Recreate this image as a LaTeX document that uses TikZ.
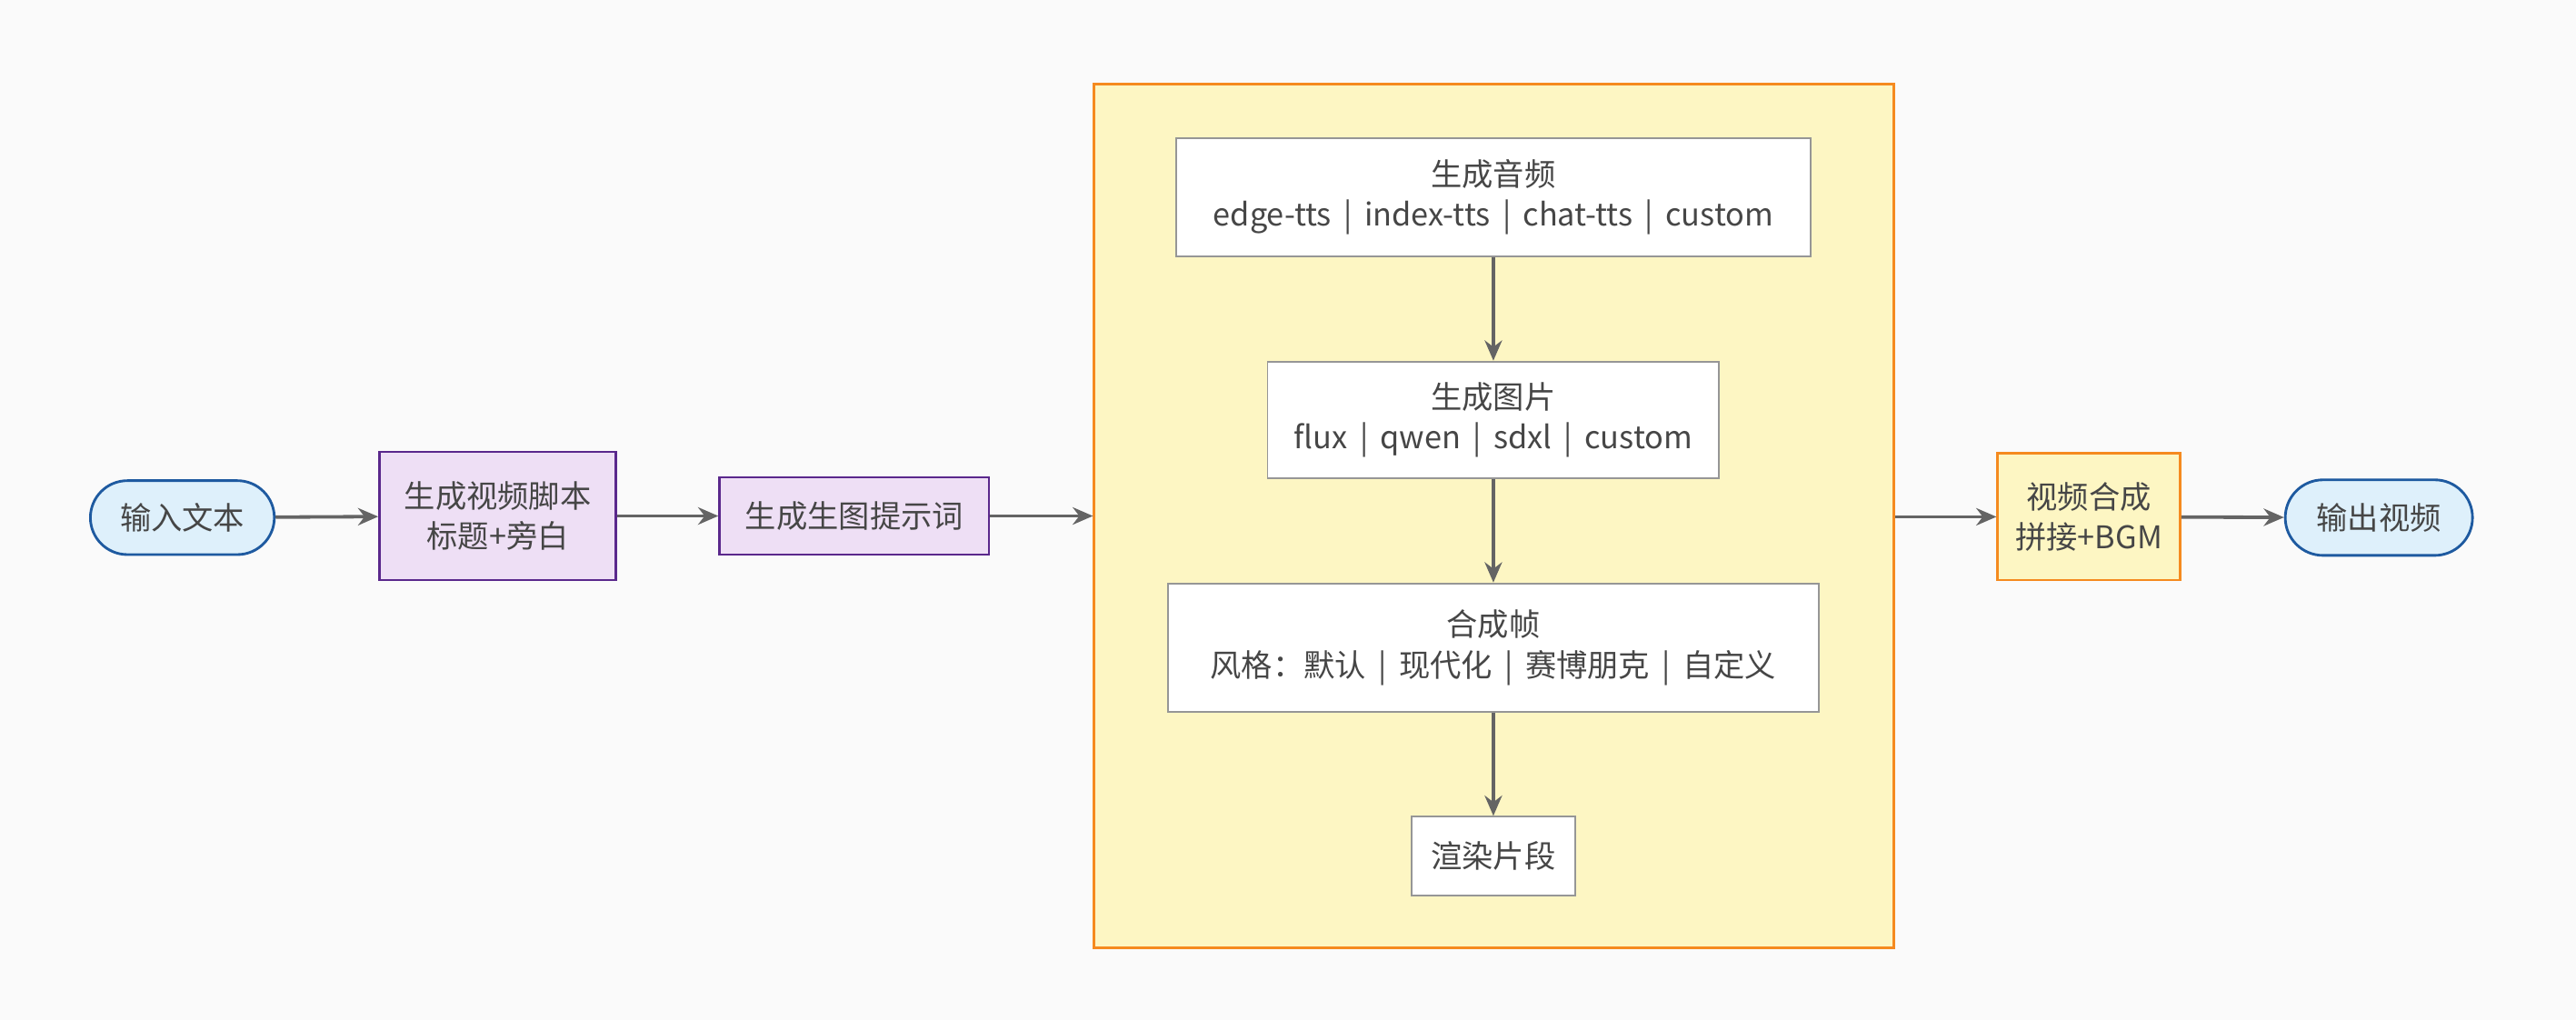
\documentclass[tikz,border=0pt]{standalone}
\usepackage{fontspec}
\setmainfont{Noto Sans CJK SC}
\usetikzlibrary{arrows.meta,positioning,shapes}
\definecolor{bgcolor}{RGB}{250,250,250}
\definecolor{termfill}{RGB}{222,240,251}
\definecolor{termdraw}{RGB}{30,90,160}
\definecolor{scriptfill}{RGB}{238,223,245}
\definecolor{scriptdraw}{RGB}{90,40,140}
\definecolor{groupfill}{RGB}{253,246,195}
\definecolor{groupdraw}{RGB}{245,138,31}
\definecolor{stepdraw}{RGB}{150,150,150}
\definecolor{edgecolor}{RGB}{100,100,100}
\definecolor{textcolor}{RGB}{70,70,70}
\newcommand{\sep}{~\,|\,~}
\tikzset{
  every node/.style={font=\fontsize{10.8}{14}\selectfont, text=textcolor, align=center, inner sep=0pt},
  terminal/.style={rounded rectangle, fill=termfill, draw=termdraw, line width=0.9pt},
  script step/.style={rectangle, fill=scriptfill, draw=scriptdraw, line width=0.9pt},
  group box/.style={rectangle, fill=groupfill, draw=groupdraw, line width=0.9pt},
  inner step/.style={rectangle, fill=white, draw=stepdraw, line width=0.6pt},
  flowedge/.style={-{Stealth[length=7pt,width=6pt]}, line width=1.2pt, edgecolor}
}
\begin{document}
\begin{tikzpicture}[x=0.02cm,y=-0.02cm]
\fill[bgcolor] (0,0) rectangle (1568,621);

    % outer chain
    \node[terminal, minimum width=2.24cm, minimum height=0.9cm] (In) at (111,315) {输入文本};
    \node[script step, minimum width=2.88cm, minimum height=1.56cm] (S-1) at (303,314) {生成视频脚本\\标题+旁白};
    \node[script step, minimum width=3.28cm, minimum height=0.94cm] (S-2) at (520,314) {生成生图提示词};
    \node[group box, minimum width=9.74cm, minimum height=10.52cm] (G) at (909.5,314) {};
    \node[group box, minimum width=2.22cm, minimum height=1.54cm] (M) at (1271.5,314.5) {视频合成\\拼接+BGM};
    \node[terminal, minimum width=2.28cm, minimum height=0.92cm] (Out) at (1448,315) {输出视频};

    % inner steps
    \node[inner step, minimum width=7.72cm, minimum height=1.44cm] (P-1) at (909,120) {生成音频\\edge-tts\sep index-tts\sep chat-tts\sep custom};
    \node[inner step, minimum width=5.5cm, minimum height=1.42cm] (P-2) at (909,255.5) {生成图片\\flux\sep qwen\sep sdxl\sep custom};
    \node[inner step, minimum width=7.92cm, minimum height=1.56cm] (P-3) at (909,394) {合成帧\\风格：默认\sep 现代化\sep 赛博朋克\sep 自定义};
    \node[inner step, minimum width=2.0cm, minimum height=0.96cm] (P-4) at (909,521) {渲染片段};

    \draw[flowedge] (In) -- (S-1);
    \draw[flowedge] (S-1) -- (S-2);
    \draw[flowedge] (S-2) -- (G.west |- S-2);
    \draw[flowedge] (G.east |- M) -- (M);
    \draw[flowedge] (M) -- (Out);

    \foreach \source/\dest in {1/2,2/3,3/4}
        \draw[flowedge] (P-\source) -- (P-\dest);
\end{tikzpicture}
\end{document}
